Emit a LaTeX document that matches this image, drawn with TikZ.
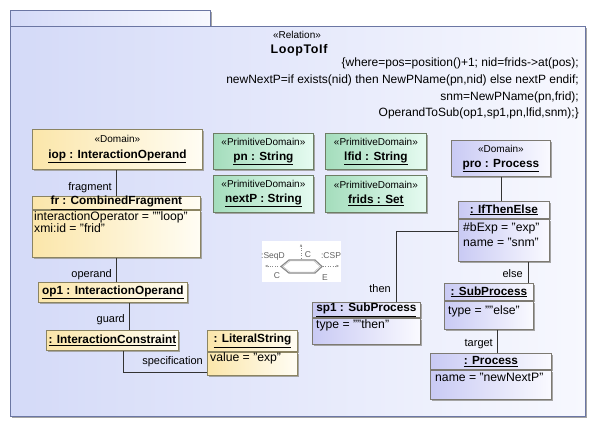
\documentclass[tikz,border=0pt]{standalone}
\usepackage{fontspec}
\setmainfont{Liberation Sans}
\usetikzlibrary{arrows.meta,positioning,calc,shadows}
\definecolor{pkgdark}{HTML}{D4DAF8}
\definecolor{pkglight}{HTML}{F7F8FE}
\definecolor{pkgline}{HTML}{6B76A3}
\definecolor{domdark}{HTML}{FBE6AA}
\definecolor{domlight}{HTML}{FFFDF4}
\definecolor{domline}{HTML}{8B8462}
\definecolor{primdark}{HTML}{A4DDBC}
\definecolor{primlight}{HTML}{E6FBF1}
\definecolor{primline}{HTML}{6D7D64}
\definecolor{procdark}{HTML}{C9CAF4}
\definecolor{proclight}{HTML}{FAFAFF}
\definecolor{procline}{HTML}{7D7A72}
\definecolor{shadowgray}{HTML}{A4A4A4}
\definecolor{icongray}{HTML}{8A8A8A}
\newcommand{\ttl}[1]{\textbf{\underline{#1}}}
\newcommand{\stereo}{\fontsize{10}{11}\selectfont}
\tikzset{
  umlbox/.style={draw,line width=0.8pt,anchor=north west,inner sep=0pt,align=center,font=\fontsize{11.8}{12}\selectfont,
    drop shadow={shadow xshift=2pt,shadow yshift=-2pt,fill=shadowgray,opacity=1}},
  pkgbox/.style={umlbox,draw=pkgline,left color=pkgdark,right color=pkglight},
  dombox/.style={umlbox,draw=domline,left color=domdark,right color=domlight},
  primbox/.style={umlbox,draw=primline,left color=primdark,right color=primlight},
  procbox/.style={umlbox,draw=procline,left color=procdark,right color=proclight},
  attr/.style={anchor=north west,align=left,inner sep=0pt,font=\fontsize{12.2}{11.7}\selectfont},
  lbl/.style={anchor=east,inner sep=0pt,font=\fontsize{11}{12}\selectfont},
  icontext/.style={inner sep=0pt,text=icongray!70!black,font=\fontsize{8.5}{9}\selectfont},
  assoc/.style={draw=black!80,line width=0.8pt}
}
\begin{document}
\begin{tikzpicture}[x=1pt,y=-1pt]
\useasboundingbox (0,0) rectangle (594,426);
\node[pkgbox,minimum width=200pt,minimum height=16pt] (tab) at (10,10) {};
\node[pkgbox,minimum width=575pt,minimum height=390pt] (pkg) at (10,26) {};
\node[inner sep=0pt,font=\stereo] (relst) at (297,35) {«Relation»};
\node[inner sep=0pt,font=\fontsize{12.5}{14}\selectfont\bfseries\addfontfeature{LetterSpace=5}] (relname) at (299,50) {LoopToIf};
\node[anchor=north east,align=right,inner sep=0pt,font=\fontsize{12}{16.7}\selectfont] (cons) at (579,58)
  {\{where=pos=position()+1; nid=frids->at(pos);\\
   newNextP=if exists(nid) then NewPName(pn,nid) else nextP endif;\\
   snm=NewPName(pn,frid);\\
   OperandToSub(op1,sp1,pn,lfid,snm);\}};

\node[dombox,minimum width=170pt,minimum height=40pt] (iop) at (32,129) {{\stereo «Domain»}\\[4pt]\ttl{iop : InteractionOperand}};
\node[dombox,minimum width=168pt,minimum height=13pt] (fr) at (32,196) {\ttl{fr : CombinedFragment}};
\node[dombox,anchor=north,minimum width=168pt,minimum height=47pt] (frb) at (fr.south) {};
\node[attr] (frattr) at (34,211.5) {interactionOperator = ""loop"\\xmi:id = "frid"};
\node[dombox,minimum width=149pt,minimum height=20pt] (op1) at (38,282) {\ttl{op1 : InteractionOperand}};
\node[dombox,minimum width=132pt,minimum height=20pt] (ic) at (46,330) {\ttl{: InteractionConstraint}};
\node[dombox,minimum width=90pt,minimum height=21pt] (ls) at (207,330) {\ttl{: LiteralString}};
\node[dombox,anchor=north,minimum width=90pt,minimum height=23pt] (lsb) at (ls.south) {};
\node[attr] (lsattr) at (210,352.5) {value = "exp"};

\node[primbox,minimum width=100pt,minimum height=36pt] (pn) at (213,133) {{\stereo «PrimitiveDomain»}\\[3pt]\ttl{pn : String}};
\node[primbox,minimum width=101pt,minimum height=36pt] (lfid) at (325,133) {{\stereo «PrimitiveDomain»}\\[3pt]\ttl{lfid : String}};
\node[primbox,minimum width=100pt,minimum height=37pt] (nextp) at (213,175) {{\stereo «PrimitiveDomain»}\\[3pt]\ttl{nextP : String}};
\node[primbox,minimum width=101pt,minimum height=37pt] (frids) at (325,175) {{\stereo «PrimitiveDomain»}\\[3pt]\ttl{frids : Set}};

\node[procbox,minimum width=99pt,minimum height=36pt] (pro) at (451,140) {{\stereo «Domain»}\\[3pt]\ttl{pro : Process}};
\node[procbox,minimum width=91pt,minimum height=17pt] (ite) at (458,201) {\ttl{: IfThenElse}};
\node[procbox,anchor=north,minimum width=91pt,minimum height=42pt] (iteb) at (ite.south) {};
\node[attr] (iteattr) at (463,222.5) {\#bExp = "exp"\\[3.3pt]name = "snm"};
\node[procbox,minimum width=108pt,minimum height=15pt] (sp1) at (312,302) {\ttl{sp1 : SubProcess}};
\node[procbox,anchor=north,minimum width=108pt,minimum height=26pt] (sp1b) at (sp1.south) {};
\node[attr] (sp1attr) at (316,319.5) {type = ""then"};
\node[procbox,minimum width=89pt,minimum height=17pt] (sub) at (444,283) {\ttl{: SubProcess}};
\node[procbox,anchor=north,minimum width=89pt,minimum height=28pt] (subb) at (sub.south) {};
\node[attr] (subattr) at (448,305.5) {type = ""else"};
\node[procbox,minimum width=121pt,minimum height=16pt] (proc) at (430,353) {\ttl{: Process}};
\node[procbox,anchor=north,minimum width=121pt,minimum height=29pt] (procb) at (proc.south) {};
\node[attr] (procattr) at (435,372.5) {name = "newNextP"};

\draw[assoc] (fr.north) -- (fr.north |- iop.south);
\draw[assoc] (frb.south) -- (frb.south |- op1.north);
\draw[assoc] ([xshift=16pt]op1.south) -- ([xshift=16pt]op1.south |- ic.north);
\draw[assoc] ([xshift=11pt]ic.south) |- ([yshift=3pt]lsb.south west);
\draw[assoc] (pro.south) -- (pro.south |- ite.north);
\draw[assoc] ([yshift=9pt]iteb.west) -| ([xshift=30pt]sp1.north);
\draw[assoc] ([xshift=-5pt]sub.north east) -- ([xshift=-5pt]sub.north east |- iteb.south);
\draw[assoc] ([xshift=8pt]subb.south) -- ([xshift=8pt]subb.south |- proc.north);

\node[lbl] (lfrag) at (112,188) {fragment};
\node[lbl] (loper) at (112,275) {operand};
\node[lbl] (lguard) at (125,320) {guard};
\node[lbl] (lspec) at (203,362) {specification};
\node[lbl] (lthen) at (391,289) {then};
\node[lbl] (lelse) at (523,274) {else};
\node[lbl] (ltarget) at (493,344) {target};

\fill[white] (262,241) rectangle (341,282);
\draw[icongray,line width=1.2pt] (281,266.5) -- (289,260) -- (315,260) -- (322,266.5) -- (315,273) -- (289,273) -- cycle;
\draw[icongray!60,line width=0.4pt] (283,266.5) -- (290,261) -- (314,261) -- (320,266.5) -- (314,272) -- (290,272) -- cycle;
\draw[icongray,dotted,-{Stealth[length=3pt]}] (301,258) -- (301,244);
\draw[icongray,dotted,-{Stealth[length=3pt]}] (280,266) -- (265,266);
\draw[icongray,dotted,-{Stealth[length=3pt]}] (323,266) -- (339,266);
\node[icontext] (iseqd) at (273,256) {:SeqD};
\node[icontext] (ictop) at (308,255) {C};
\node[icontext] (icsp) at (331,256) {:CSP};
\node[icontext] (icbot) at (277,276) {C};
\node[icontext] (iebot) at (325,278) {E};
\end{tikzpicture}
\end{document}
